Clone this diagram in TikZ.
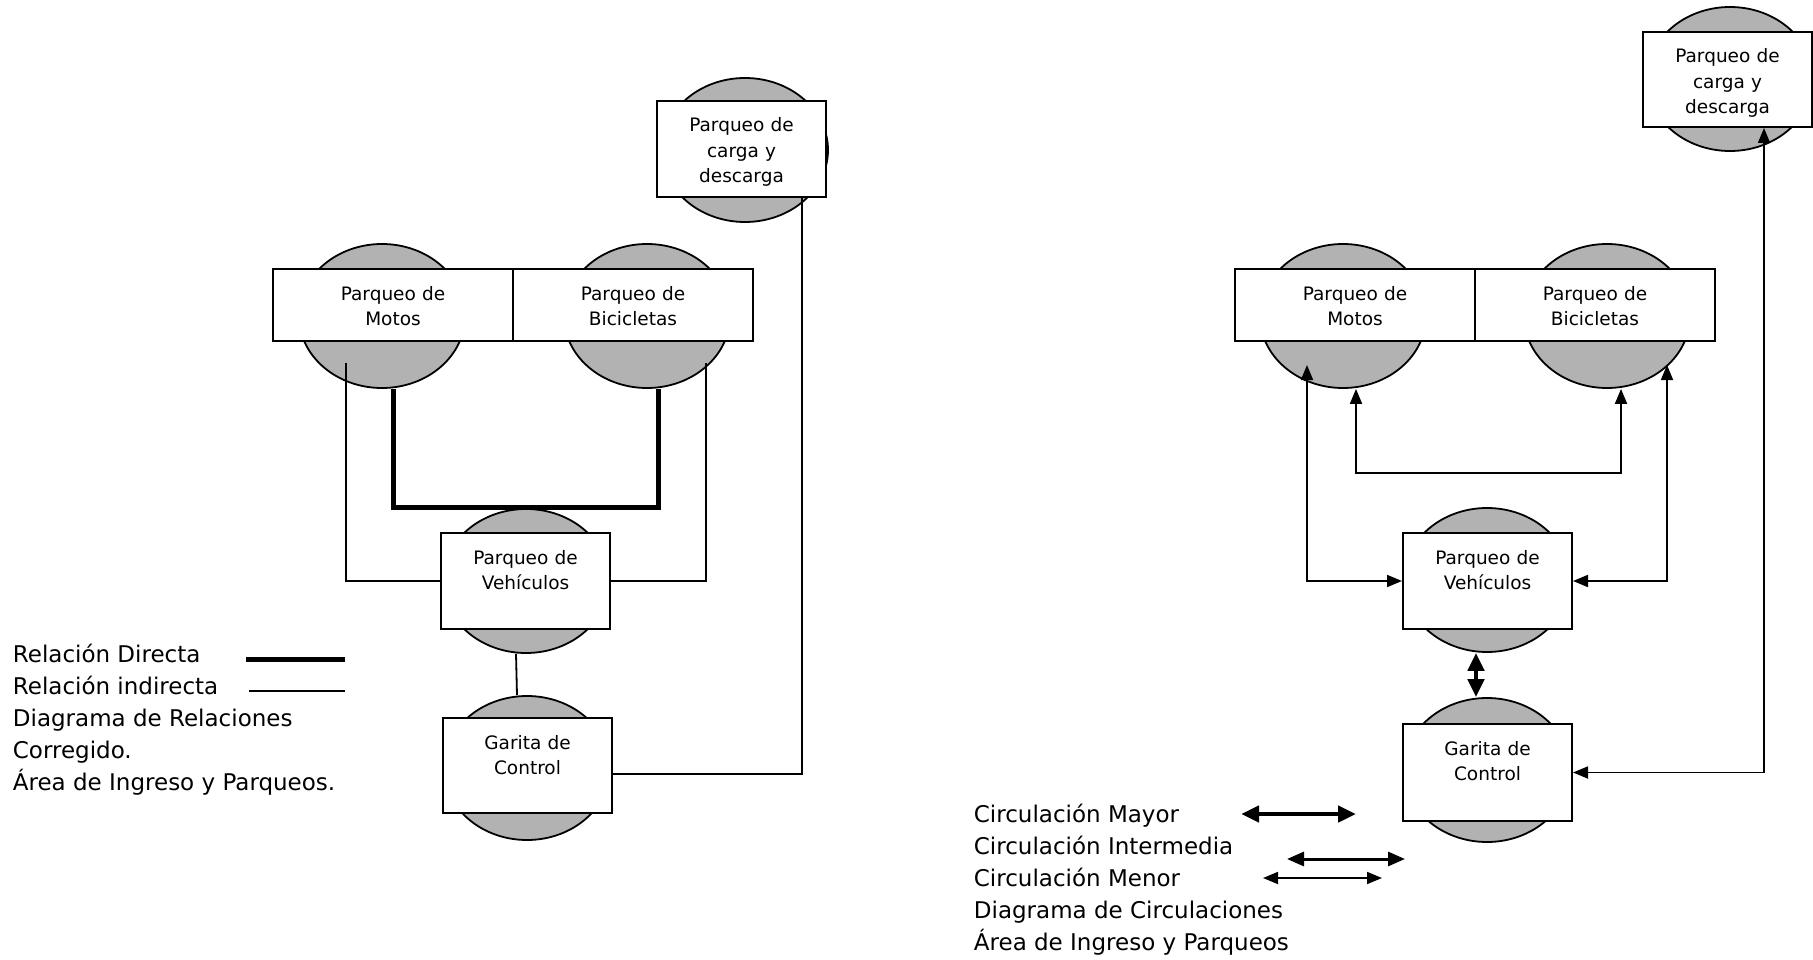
\documentclass[tikz,border=0pt]{standalone}
\usepackage{fontspec}
\setmainfont{DejaVu Sans}
\usetikzlibrary{arrows.meta, shapes.geometric, calc}
\definecolor{cfill}{HTML}{B2B2B2}
\tikzset{
  every picture/.style={line width=1.8pt},
  zona/.style={ellipse, draw, fill=cfill, line width=1.8pt, minimum width=166pt, minimum height=144pt, inner sep=0pt},
  box/.style 2 args={draw, fill=white, line width=2pt, align=center, inner sep=0pt, text width=#1, text height=31pt, text depth=#2, font=\fontsize{18.5}{25.5}\selectfont},
  legend/.style={anchor=base west, inner sep=0pt, font=\fontsize{23}{32}\selectfont},
  direct/.style={line width=5pt},
  menor/.style={{Triangle[length=15pt, width=12pt]}-{Triangle[length=15pt, width=12pt]}, line width=1.8pt},
  intermedia/.style={{Triangle[length=17pt, width=14pt]}-{Triangle[length=17pt, width=14pt]}, line width=3pt},
  mayor/.style={{Triangle[length=18pt, width=16pt]}-{Triangle[length=18pt, width=16pt]}, line width=4.5pt},
}
\begin{document}
\begin{tikzpicture}[x=1pt, y=-1pt]
  \useasboundingbox (0,0) rectangle (1813,960);
  % diagrama de relaciones
  \node[zona] (cargaE) at (745,150) {};
  \node[zona] (motosE) at (382,316) {};
  \node[zona] (biciE) at (647,316) {};
  \node[zona] (vehE) at (526,581) {};
  \node[zona] (garE) at (527,768) {};
  \node[box={169pt}{65pt}] (carga) at (741.5,149) {Parqueo de\\carga y\\descarga};
  \node[box={240pt}{41pt}] (motos) at (393,305) {Parqueo de\\Motos};
  \node[box={240pt}{41pt}] (bici) at (633,305) {Parqueo de\\Bicicletas};
  \node[box={169pt}{65pt}] (veh) at (525.5,581) {Parqueo de\\Vehículos};
  \node[box={169pt}{64pt}] (gar) at (527.5,765.5) {Garita de\\Control};
  \draw[direct] ([xshift=11pt]motosE.south) -- ++(0,119) -| ([xshift=11pt]biciE.south);
  \draw ([shift={(-36,47)}]motosE.center) |- (veh.west);
  \draw ([shift={(59,47)}]biciE.center) |- (veh.east);
  \draw ([xshift=-10pt]vehE.south) -- ([xshift=-10pt]garE.north);
  \draw ([yshift=-8.5pt]gar.east) -| ([xshift=60.5pt]carga.south);
  \foreach \txt [count=\i] in {Relación Directa, Relación indirecta, Diagrama de Relaciones, Corregido., Área de Ingreso y Parqueos.}
    \node[legend] (leyA\i) at (12,630+32*\i) {\txt};
  \draw[direct] (246,659) -- (345,659);
  \draw (249,691) -- (345,691);
  % diagrama de circulaciones
  \node[zona] (cargaRE) at (1730,79) {};
  \node[zona] (motosRE) at (1343,316) {};
  \node[zona] (biciRE) at (1607,316) {};
  \node[zona] (vehRE) at (1487,580) {};
  \node[zona] (garRE) at (1487,770) {};
  \node[box={169pt}{64pt}] (cargaR) at (1727.5,79.5) {Parqueo de\\carga y\\descarga};
  \node[box={240pt}{41pt}] (motosR) at (1355,305) {Parqueo de\\Motos};
  \node[box={240pt}{41pt}] (biciR) at (1595,305) {Parqueo de\\Bicicletas};
  \node[box={169pt}{65pt}] (vehR) at (1487.5,581) {Parqueo de\\Vehículos};
  \node[box={169pt}{66pt}] (garR) at (1487.5,772.5) {Garita de\\Control};
  \draw[menor] ([shift={(-36,49)}]motosRE.center) |- (vehR.west);
  \draw[menor] ([shift={(60,49)}]biciRE.center) |- (vehR.east);
  \draw[menor] ([xshift=13pt]motosRE.south) -- ++(0,84) -| ([xshift=14pt]biciRE.south);
  \draw[mayor] ([xshift=-11pt]vehRE.south) -- ([xshift=-11pt]garRE.north);
  \draw[menor] (garR.east) -| ([xshift=36.5pt]cargaR.south);
  \foreach \txt [count=\i] in {Circulación Mayor, Circulación Intermedia, Circulación Menor, Diagrama de Circulaciones, Área de Ingreso y Parqueos}
    \node[legend] (leyB\i) at (973,790+32*\i) {\txt};
  \draw[mayor] (1241,814) -- (1356,814);
  \draw[intermedia] (1287,859) -- (1405,859);
  \draw[menor] (1263,878) -- (1382,878);
\end{tikzpicture}
\end{document}
